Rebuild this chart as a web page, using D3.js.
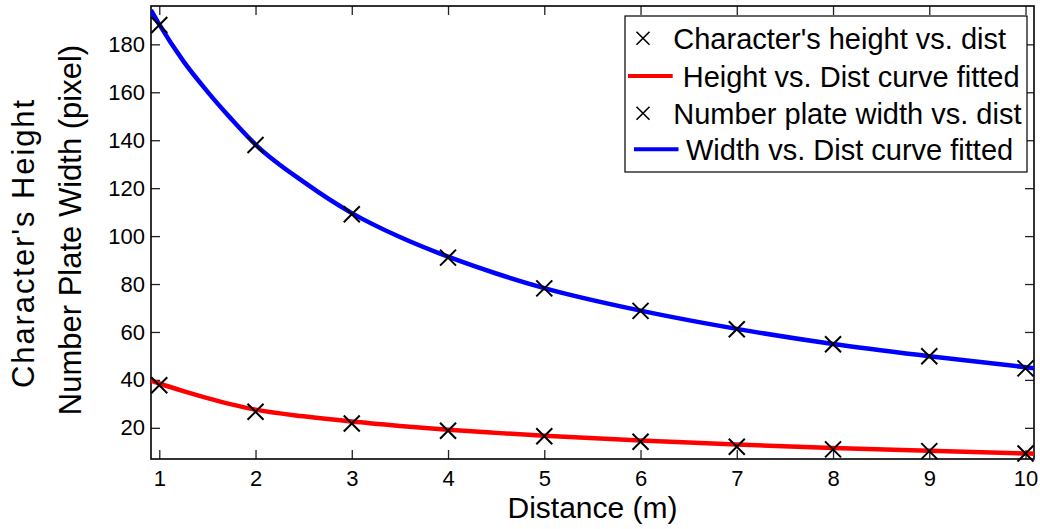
<!DOCTYPE html>
<html>
<head>
<meta charset="utf-8">
<script src="https://cdn.jsdelivr.net/npm/d3@7"></script>
<style>
  body { margin: 0; background: #fff; }
  text { font-family: "Liberation Sans", Arial, sans-serif; fill: #000; }
</style>
</head>
<body>
<svg id="chart"></svg>
<script>
// measured points
const distances = [1, 2, 3, 4, 5, 6, 7, 8, 9, 10];
const charHeight = [37.8, 26.7, 21.8, 18.8, 16.5, 14.2, 12.1, 11.0, 10.3, 9.3];
const plateWidth = [188.1, 138.0, 109.1, 91.0, 78.2, 68.8, 61.1, 54.9, 49.9, 44.8];

// fitted curves
const fitDistances = [0.914, 1, 1.25, 1.5, 1.75, 2, 2.5, 3, 3.5, 4, 4.5, 5, 6, 7, 8, 9, 10, 10.088];
const heightFit = [39.7, 38.5, 35.3, 32.4, 29.8, 27.6, 24.8, 22.6, 20.8, 19.2, 17.9, 16.7, 14.7, 13.0, 11.6, 10.4, 9.3, 9.2];
const widthFit = [194.3, 188.3, 173.0, 160.3, 148.8, 138.2, 122.6, 109.6, 99.6, 91.4, 84.4, 78.3, 68.9, 61.3, 55.0, 49.9, 45.3, 44.9];

const xTicks = [1, 2, 3, 4, 5, 6, 7, 8, 9, 10];
const yTicks = [20, 40, 60, 80, 100, 120, 140, 160, 180];
const legendLabels = ["Character's height vs. dist", "Height vs. Dist curve fitted", "Number plate width vs. dist", "Width vs. Dist curve fitted"];

const width = 1040, height = 529;
const margin = {top: 6, right: 6, bottom: 70, left: 151};
const innerW = width - margin.left - margin.right;
const innerH = height - margin.top - margin.bottom;

const svg = d3.select('#chart').attr('width', width).attr('height', height);
const chart = svg.append('g').attr('transform', `translate(${margin.left}, ${margin.top})`);

const xscale = d3.scaleLinear().domain([0.914, 10.088]).range([0, innerW]);
const yscale = d3.scaleLinear().domain([7, 196]).range([innerH, 0]);

chart.append('clipPath').attr('id', 'clip')
  .append('rect').attr('width', innerW).attr('height', innerH);

// axes, ticks inward like matlab
const tickLen = 9;
chart.append('g')
  .attr('transform', `translate(0, ${innerH})`)
  .call(d3.axisBottom(xscale).tickValues(xTicks).tickSizeInner(-tickLen).tickSizeOuter(0).tickPadding(11))
  .call(g => g.select('.domain').remove())
  .call(g => g.selectAll('text').style('font-size', '22px'));
chart.append('g')
  .call(d3.axisTop(xscale).tickValues(xTicks).tickSizeInner(-tickLen).tickSizeOuter(0).tickFormat(''))
  .call(g => g.select('.domain').remove());
chart.append('g')
  .call(d3.axisLeft(yscale).tickValues(yTicks).tickSizeInner(-tickLen).tickSizeOuter(0).tickPadding(6))
  .call(g => g.select('.domain').remove())
  .call(g => g.selectAll('text').style('font-size', '22px'));
chart.append('g')
  .attr('transform', `translate(${innerW}, 0)`)
  .call(d3.axisRight(yscale).tickValues(yTicks).tickSizeInner(-tickLen).tickSizeOuter(0).tickFormat(''))
  .call(g => g.select('.domain').remove());
chart.selectAll('.tick line').attr('stroke', '#222').attr('stroke-width', 1.3);

chart.append('rect')
  .attr('width', innerW).attr('height', innerH)
  .attr('fill', 'none').attr('stroke', '#000').attr('stroke-width', 1.6);

// fitted curves
const fitLine = vals => d3.line()
  .x(d => xscale(d))
  .y((d, i) => yscale(vals[i]))
  .curve(d3.curveMonotoneX)(fitDistances);

const curves = chart.append('g').attr('clip-path', 'url(#clip)');
curves.append('path').attr('d', fitLine(widthFit))
  .attr('fill', 'none').attr('stroke', '#0000ff').attr('stroke-width', 4.5);
curves.append('path').attr('d', fitLine(heightFit))
  .attr('fill', 'none').attr('stroke', '#ff0000').attr('stroke-width', 4.5);

// cross markers
const cross = (g, x, y, r, w) => {
  g.append('path')
    .attr('d', `M${x - r},${y - r}L${x + r},${y + r}M${x - r},${y + r}L${x + r},${y - r}`)
    .attr('stroke', '#000').attr('stroke-width', w).attr('fill', 'none');
};
const marks = chart.append('g');
distances.forEach((d, i) => {
  cross(marks, xscale(d), yscale(charHeight[i]), 8, 2);
  cross(marks, xscale(d), yscale(plateWidth[i]), 8, 2);
});

// axis labels
svg.append('text')
  .attr('x', margin.left + innerW / 2).attr('y', 518)
  .attr('text-anchor', 'middle').style('font-size', '30px')
  .text('Distance (m)');
svg.append('text')
  .attr('transform', 'translate(34, 243) rotate(-90)')
  .attr('text-anchor', 'middle').style('font-size', '31px')
  .style('letter-spacing', '1.9px')
  .text("Character's Height");
svg.append('text')
  .attr('transform', 'translate(81, 230) rotate(-90)')
  .attr('text-anchor', 'middle').style('font-size', '31px')
  .text('Number Plate Width (pixel)');

// legend
const legend = svg.append('g');
legend.append('rect')
  .attr('x', 625).attr('y', 16).attr('width', 402).attr('height', 156)
  .attr('fill', '#fff').attr('stroke', '#000').attr('stroke-width', 1.2);
const rowY = [38.3, 76, 113.3, 149.3];
const textX = [673.3, 682.7, 673.3, 686];
cross(legend, 643, rowY[0], 6.5, 1.6);
legend.append('line').attr('x1', 628).attr('x2', 672.7).attr('y1', rowY[1]).attr('y2', rowY[1])
  .attr('stroke', '#ff0000').attr('stroke-width', 4);
cross(legend, 643, rowY[2], 6.5, 1.6);
legend.append('line').attr('x1', 634).attr('x2', 678.5).attr('y1', rowY[3]).attr('y2', rowY[3])
  .attr('stroke', '#0000ff').attr('stroke-width', 4);
legendLabels.forEach((t, i) => {
  legend.append('text')
    .attr('x', textX[i]).attr('y', rowY[i] + 10.5)
    .style('font-size', '29px')
    .text(t);
});
</script>
</body>
</html>
